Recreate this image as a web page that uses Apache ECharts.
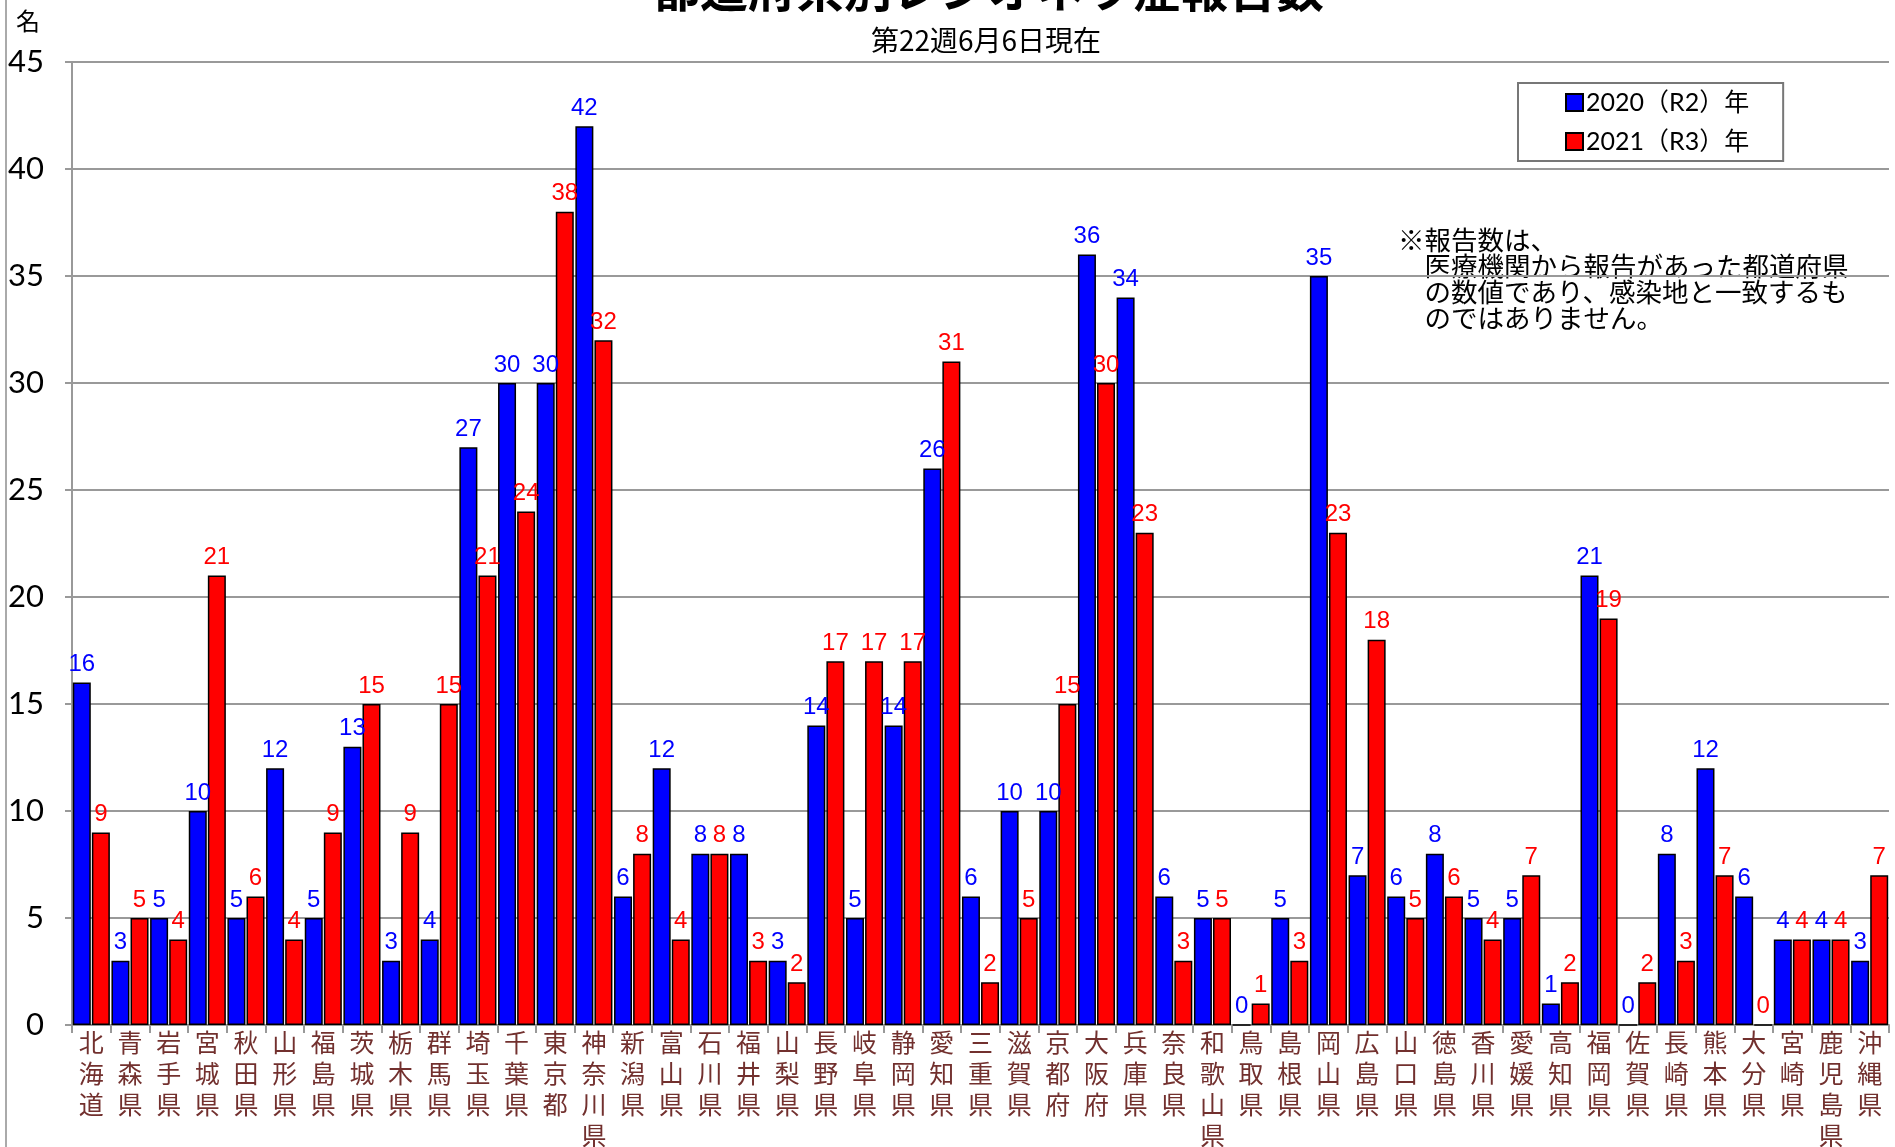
<!DOCTYPE html>
<html><head><meta charset="utf-8">
<script src="https://cdn.jsdelivr.net/npm/echarts@6/dist/echarts.min.js"></script>
<style>html,body{margin:0;padding:0;background:#fff}#c{width:1895px;height:1147px}</style>
</head><body><div id="c"></div>
<script>
const prefectures = ['北海道','青森県','岩手県','宮城県','秋田県','山形県','福島県','茨城県','栃木県','群馬県','埼玉県','千葉県','東京都','神奈川県','新潟県','富山県','石川県','福井県','山梨県','長野県','岐阜県','静岡県','愛知県','三重県','滋賀県','京都府','大阪府','兵庫県','奈良県','和歌山県','鳥取県','島根県','岡山県','広島県','山口県','徳島県','香川県','愛媛県','高知県','福岡県','佐賀県','長崎県','熊本県','大分県','宮崎県','鹿児島県','沖縄県'];
const values2020 = [16,3,5,10,5,12,5,13,3,4,27,30,30,42,6,12,8,8,3,14,5,14,26,6,10,10,36,34,6,5,0,5,35,7,6,8,5,5,1,21,0,8,12,6,4,4,3];
const values2021 = [9,5,4,21,6,4,9,15,9,15,21,24,38,32,8,4,8,3,2,17,17,17,31,2,5,15,30,23,3,5,1,3,23,18,5,6,4,7,2,19,2,3,7,0,4,4,7];
const yTicks = [0,5,10,15,20,25,30,35,40,45];
const seriesNames = ['2020（R2）年','2021（R3）年'];

const chart = echarts.init(document.getElementById('c'));
const labelFont = {fontFamily:'Liberation Sans, Arial, sans-serif', fontSize:24};
chart.setOption({
  animation:false,
  backgroundColor:'#fff',
  grid:{left:72,right:6,top:62,bottom:122,containLabel:false,outerBoundsMode:'none'},
  legend:{
    orient:'vertical', left:1518, top:83,
    padding:[7,34,7,47], itemGap:14, itemWidth:17, itemHeight:17,
    borderColor:'#777', borderWidth:2,
    textStyle:{fontFamily:'Lato, Noto Sans CJK JP, sans-serif', fontSize:25, color:'#000', padding:[0,0,0,-2]},
    data:seriesNames.map(n=>({name:n,icon:'rect'}))
  },
  xAxis:{
    type:'category', data:prefectures,
    axisLine:{lineStyle:{color:'#999',width:2}},
    axisTick:{show:true,length:8,lineStyle:{color:'#999',width:2}},
    axisLabel:{interval:0, margin:2, color:'#72302e', fontSize:25, lineHeight:31,
      fontFamily:'Noto Sans CJK JP, sans-serif',
      formatter:v=>v.split('').join('\n')},
    splitLine:{show:false}
  },
  yAxis:{
    type:'value', min:0, max:45, interval:5,
    axisLine:{show:true,lineStyle:{color:'#999',width:2}},
    axisTick:{show:true,length:7,lineStyle:{color:'#999',width:2}},
    axisLabel:{margin:28,color:'#000',fontSize:31,fontFamily:'Lato, sans-serif',
      formatter:v=>yTicks.includes(v)?String(v):''},
    splitLine:{lineStyle:{color:'#999',width:2}}
  },
  series:[
    {name:seriesNames[0], type:'bar', data:values2020, barWidth:18, barGap:'6%',
     itemStyle:{color:'#0000ff',borderColor:'#000',borderWidth:1.5},
     label:{show:true,position:'top',distance:6,color:'#0000ff',...labelFont}},
    {name:seriesNames[1], type:'bar', data:values2021, barWidth:18, barGap:'6%',
     itemStyle:{color:'#ff0000',borderColor:'#000',borderWidth:1.5},
     label:{show:true,position:'top',distance:6,color:'#ff0000',...labelFont}}
  ],
  graphic:[
    {type:'line',shape:{x1:6,y1:0,x2:6,y2:1147},style:{stroke:'#aaa',lineWidth:2},silent:true},
    {type:'text',style:{text:'都道府県別レジオネラ症報告数',x:988,y:-11,align:'center',verticalAlign:'middle',
      font:'bold 48px "Noto Sans CJK JP", sans-serif',fill:'#000'}},
    {type:'text',style:{text:'第22週6月6日現在',x:986,y:40,align:'center',verticalAlign:'middle',
      font:'28px "Noto Sans CJK JP", sans-serif',fill:'#000'}},
    {type:'text',style:{text:'名',x:28,y:21,align:'center',verticalAlign:'middle',
      font:'24px "Noto Sans CJK JP", sans-serif',fill:'#000'}},
    {type:'text',style:{text:'※報告数は、\n　医療機関から報告があった都道府県\n　の数値であり、感染地と一致するも\n　のではありません。',
      x:1398,y:227,lineHeight:26,
      font:'26.5px "Noto Sans CJK JP", sans-serif',fill:'#000'}}
  ]
});
</script></body></html>
